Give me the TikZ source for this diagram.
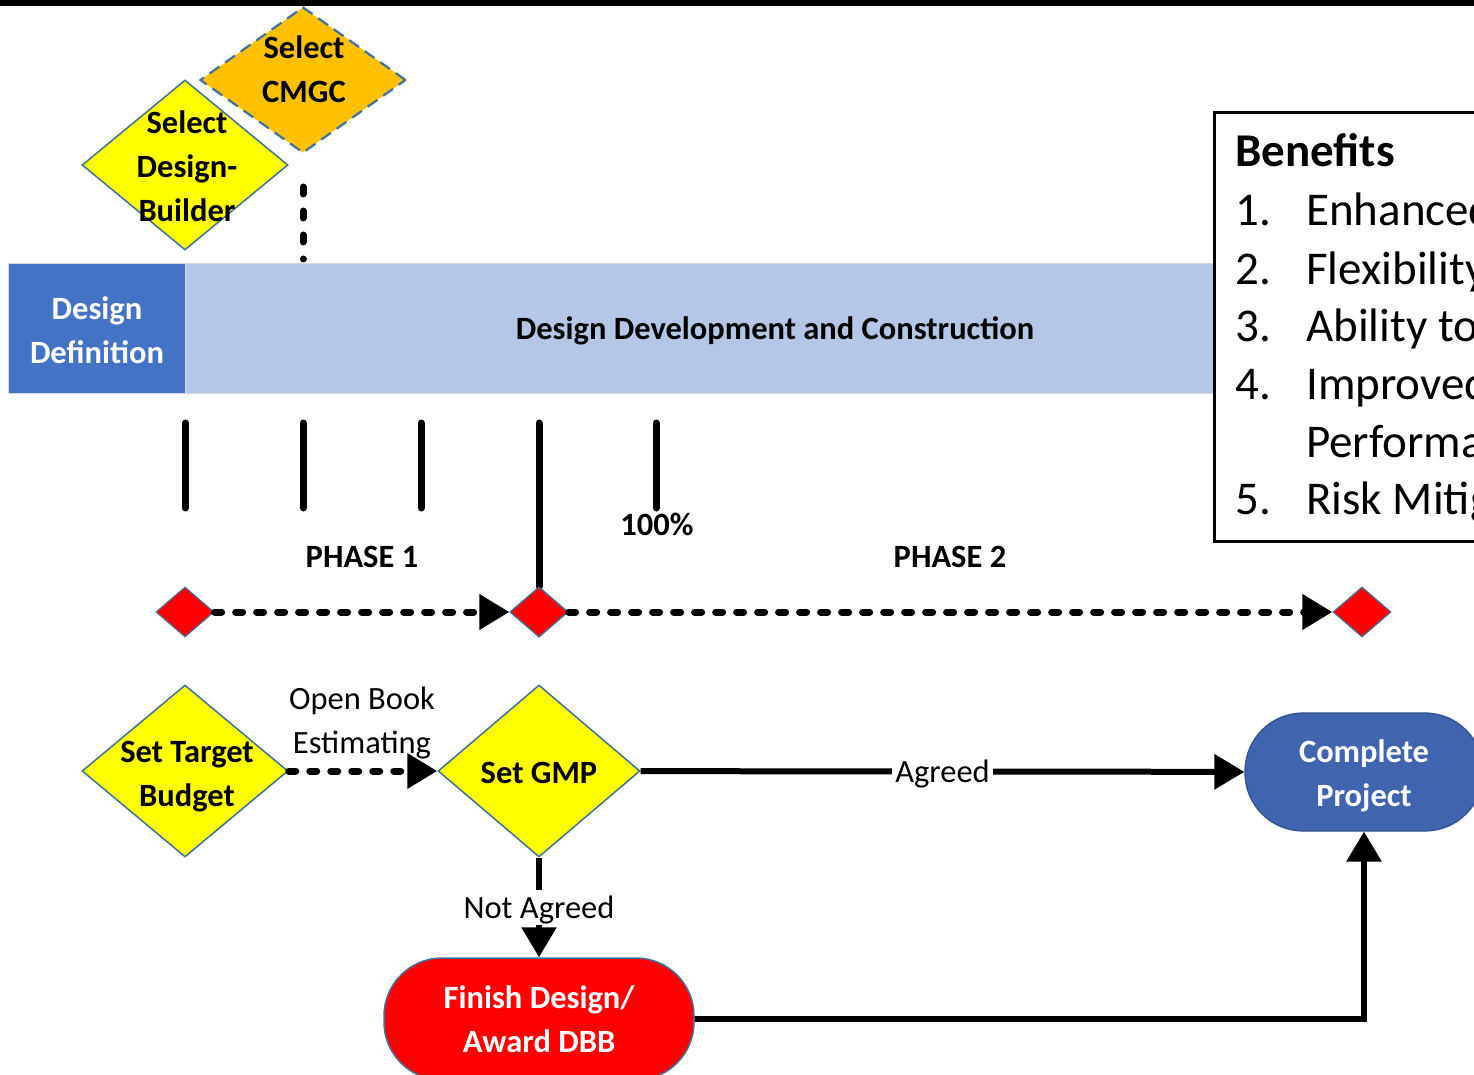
\documentclass[tikz,border=0pt]{standalone}
\usepackage{fontspec}
\setmainfont{Carlito}
\usetikzlibrary{arrows.meta,shapes.geometric,positioning}

\definecolor{gateyellow}{HTML}{FFFF00}
\definecolor{gateorange}{HTML}{FFC000}
\definecolor{gateedge}{HTML}{41719C}
\definecolor{defblue}{HTML}{4472C4}
\definecolor{barblue}{HTML}{B4C7E7}
\definecolor{doneblue}{HTML}{4064AD}
\definecolor{doneedge}{HTML}{2F528F}
\definecolor{stopred}{HTML}{FF0000}

\newcommand{\bigtext}{\fontsize{32.5}{44}\selectfont}
\newcommand{\hugetext}{\fontsize{47}{57.6}\selectfont}

\begin{document}
\begin{tikzpicture}[x=1pt, y=-1pt,
	gate/.style={diamond, draw=gateedge, line width=1.5pt, inner sep=0pt,
		minimum width=206pt, minimum height=170pt},
	mile/.style={diamond, draw=gateedge, line width=1.2pt, fill=stopred,
		inner sep=0pt, minimum width=58pt, minimum height=50pt},
	pill/.style={rectangle, rounded corners=58pt, inner sep=0pt, text=white,
		font=\bigtext\bfseries, align=center},
	lbl/.style={font=\bigtext, align=center, inner sep=0pt},
	boldlbl/.style={lbl, font=\bigtext\bfseries},
	listtext/.style={font=\hugetext, anchor=base west, inner sep=0pt},
	tickline/.style={line width=7pt, line cap=round},
	dotline/.style={line width=7pt, line cap=round, dash pattern=on 7pt off 14pt},
	vdotline/.style={line width=7pt, line cap=round, dash pattern=on 7pt off 17pt},
	solidline/.style={line width=6pt},
	arrowtip/.style={-{Triangle[length=30pt,width=34pt]}},
]

% frame %{{{2

	\useasboundingbox (0,0) rectangle (1474,1075);
	\clip (0,0) rectangle (1474,1075);

	\fill (0,0) rectangle (1474,6);

% selection gates %{{{2

	\node[gate, fill=gateorange, line width=2.2pt, dash pattern=on 12pt off 7pt,
		minimum height=146pt] (cmgc) at (303,80) {};
	\node[boldlbl] (cmgc-t) at (304,69) {Select\\CMGC};

	\node[gate, fill=gateyellow] (sdb) at (185,165) {};
	\node[boldlbl] (sdb-t) at (187,166) {Select\\Design-\\Builder};

	\coordinate (v1) at (303,187);
	\coordinate (v2) at (303,259);
	\draw[vdotline] (v1) -- (v2);

% phase bar %{{{2

	\node[rectangle, fill=defblue, draw=gray!30, inner sep=0pt,
		minimum width=177pt, minimum height=130pt, text=white,
		font=\bigtext\bfseries, align=center] (dd) at (96.5,328) {};
	\node[rectangle, fill=barblue, draw=gray!30, inner sep=0pt,
		minimum width=1180pt, minimum height=130pt,
		right=0pt of dd] (ddc) {};
	\node[boldlbl, text=white] (dd-t) at (97,330) {Design\\Definition};
	\node[boldlbl] (ddc-t) at (775,331) {Design Development and Construction};

% milestones %{{{2

	\node[mile] (m1) at (185,612) {};
	\node[mile] (m2) at (539,612) {};
	\node[mile] (m3) at (1362,612) {};

	\foreach \x in {185,303,421,656} {
		\draw[tickline] (\x,423) -- (\x,508);
	}
	\draw[tickline] (539,423) -- (m2.north);

	\node[mile] at (m2) {};

	\draw[dotline, arrowtip] (m1) -- (m2);
	\draw[dotline, arrowtip] (m2) -- (m3);

	\node[boldlbl] (ph1) at (362,557) {PHASE 1};
	\node[boldlbl] (ph2) at (950,557) {PHASE 2};
	\node[boldlbl] (pct) at (657,524) {100\%};

% decision flow %{{{2

	\node[gate, fill=gateyellow, minimum height=172pt] (stb) at (185,771) {};
	\node[boldlbl] (stb-t) at (187,777) {Set Target\\Budget};

	\node[gate, fill=gateyellow, minimum width=202pt, minimum height=172pt] (gmp) at (539,771) {};
	\node[boldlbl] (gmp-t) at (539,773) {Set GMP};

	\node[pill, fill=doneblue, draw=doneedge, line width=1.2pt,
		minimum width=238pt, minimum height=118pt] (cp) at (1364,772) {};
	\node[boldlbl, text=white] (cp-t) at (1364,776) {Complete\\Project};
	\node[pill, fill=stopred, draw=gateedge, line width=1.5pt,
		minimum width=310pt, minimum height=122pt] (fd) at (539,1019) {Finish Design/\\Award DBB};

	\draw[dotline, arrowtip] (stb) -- (gmp);
	\node[lbl] (obe) at (362,723) {Open Book\\Estimating};

	\draw[solidline, arrowtip] (gmp) -- node[lbl, fill=white, inner xsep=3pt,
		inner ysep=4pt, text depth=0pt] (agr) {Agreed} (cp);
	\draw[solidline, arrowtip] (gmp) -- node[lbl, fill=white, inner ysep=6pt,
		text depth=0pt] (nag) {Not Agreed} (fd);
	\draw[solidline, arrowtip] (fd.east) -| (cp.south);

% benefits %{{{2

	\node[draw, line width=3pt, fill=white, inner sep=0pt, anchor=north west,
		minimum width=290pt, minimum height=429pt] (ben) at (1213,111) {};

	\node[listtext, font=\hugetext\bfseries] (benh) at (1235,167) {Benefits};

	\foreach \i/\y/\t in {1/226/Enhanced, 2/284/Flexibility, 3/341/Ability to,
		4/399/Improved, 5/514/Risk Mitigation} {
		\node[listtext] (num\i) at (1235,\y) {\i.};
		\node[listtext] (item\i) at (1306,\y) {\t};
	}
	\node[listtext] (item4b) at (1306,457) {Performance};

% closing %{{{2

\end{tikzpicture}
\end{document}
